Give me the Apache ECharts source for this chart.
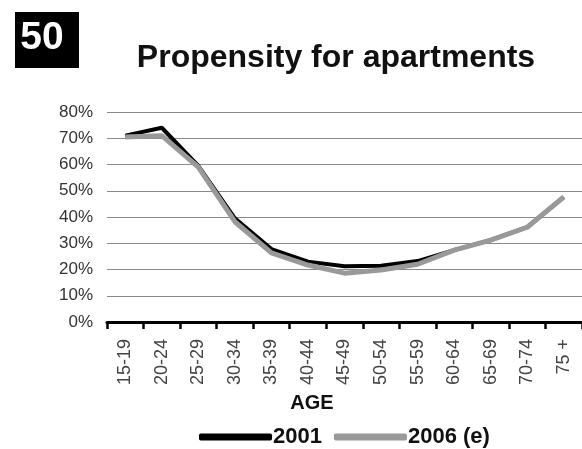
<!DOCTYPE html>
<html>
<head>
<meta charset="utf-8">
<script src="https://cdn.jsdelivr.net/npm/echarts@6/dist/echarts.min.js"></script>
<style>
  html, body { margin: 0; padding: 0; background: #fff; }
  #chart { width: 582px; height: 449px; }
</style>
</head>
<body>
<div id="chart"></div>
<script>
// Age groups along the x axis
const ageGroups = ['15-19', '20-24', '25-29', '30-34', '35-39', '40-44', '45-49',
                   '50-54', '55-59', '60-64', '65-69', '70-74', '75 +'];

// Share of households living in apartments, by age group
const values2001 = [0.71, 0.74, 0.595, 0.395, 0.278, 0.23, 0.212, 0.214, 0.232, 0.274, 0.312, 0.361, 0.476];
const values2006 = [0.705, 0.71, 0.59, 0.382, 0.263, 0.217, 0.186, 0.198, 0.22, 0.274, 0.312, 0.361, 0.476];

// y axis ticks
const yMin = 0, yMax = 0.8, yStep = 0.1;

const FONT = 'Liberation Sans, Arial, sans-serif';

const chart = echarts.init(document.getElementById('chart'), null, { renderer: 'canvas' });

chart.setOption({
  backgroundColor: '#fff',
  animation: false,
  title: {
    text: 'Propensity for apartments',
    left: 331,
    top: 37,
    textAlign: 'center',
    textStyle: {
      fontFamily: FONT,
      fontSize: 32,
      fontWeight: 'bold',
      color: '#111'
    }
  },
  graphic: [
    {
      type: 'rect',
      shape: { x: 15, y: 12, width: 64, height: 56 },
      style: { fill: '#000' }
    },
    {
      type: 'text',
      x: 42,
      y: 38,
      style: {
        text: '50',
        fill: '#fff',
        font: 'bold 39px "Liberation Sans", Arial, sans-serif',
        textAlign: 'center',
        textVerticalAlign: 'middle'
      }
    },
    {
      type: 'text',
      x: 312,
      y: 403,
      style: {
        text: 'AGE',
        fill: '#111',
        font: 'bold 20px "Liberation Sans", Arial, sans-serif',
        textAlign: 'center',
        textVerticalAlign: 'middle'
      }
    }
  ],
  legend: {
    left: 194,
    top: 421,
    icon: 'roundRect',
    itemWidth: 73,
    itemHeight: 7,
    itemGap: 12,
    textStyle: {
      fontFamily: FONT,
      fontSize: 22,
      fontWeight: 'bold',
      color: '#111',
      padding: [0, 0, 0, -4]
    },
    data: ['2001', '2006 (e)']
  },
  grid: {
    left: 107,
    right: -5,
    top: 112,
    bottom: 127,
    containLabel: false
  },
  xAxis: {
    type: 'category',
    data: ageGroups,
    boundaryGap: true,
    axisLine: { lineStyle: { color: '#000', width: 3 } },
    axisTick: { show: true, length: 7, lineStyle: { color: '#000', width: 2.5 } },
    axisLabel: {
      rotate: 90,
      margin: 17,
      fontFamily: FONT,
      fontSize: 18,
      color: '#444'
    },
    splitLine: { show: false }
  },
  yAxis: {
    type: 'value',
    min: yMin,
    max: yMax,
    interval: yStep,
    axisLine: { show: false },
    axisTick: { show: false },
    axisLabel: {
      margin: 14,
      fontFamily: FONT,
      fontSize: 17,
      color: '#333',
      formatter: v => Math.round(v * 100) + '%'
    },
    splitLine: { lineStyle: { color: '#8a8a8a', width: 1.2 } }
  },
  series: [
    {
      name: '2001',
      type: 'line',
      data: values2001,
      symbol: 'none',
      z: 2,
      lineStyle: { color: '#000', width: 4 },
      itemStyle: { color: '#000' }
    },
    {
      name: '2006 (e)',
      type: 'line',
      data: values2006,
      symbol: 'none',
      z: 3,
      lineStyle: { color: '#999', width: 5 },
      itemStyle: { color: '#999' }
    }
  ]
});
</script>
</body>
</html>
